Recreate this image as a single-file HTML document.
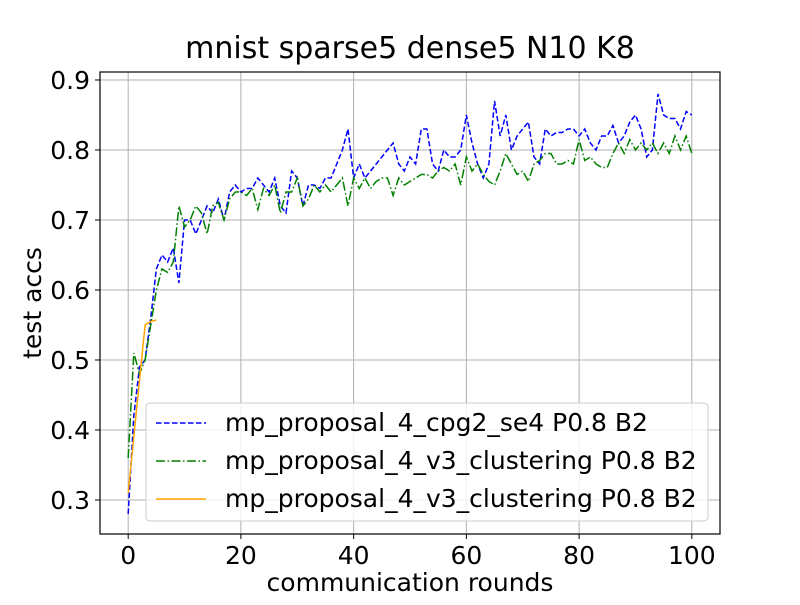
<!DOCTYPE html>
<html><head><meta charset="utf-8"><style>
body{margin:0;background:#fff}
svg text{font-family:"DejaVu Sans","Liberation Sans",sans-serif}
</style></head><body>
<svg id="chart" width="800" height="600" xmlns="http://www.w3.org/2000/svg">
<rect width="800" height="600" fill="#fff"/>
<g id="grid"></g>
<g id="series"></g>
<rect x="100" y="72" width="620" height="462" fill="none" stroke="#000" stroke-width="1.2"/>
<g id="ticks"></g>
<text x="410" y="58" font-size="30" text-anchor="middle">mnist sparse5 dense5 N10 K8</text>
<text x="410" y="591" font-size="25" text-anchor="middle">communication rounds</text>
<text transform="translate(41,303) rotate(-90)" font-size="25" text-anchor="middle">test accs</text>
<g>
<rect x="146" y="403" width="562" height="118" rx="4" fill="#fff" fill-opacity="0.8" stroke="#ccc"/>
<line x1="156" y1="423" x2="206" y2="423" stroke="blue" stroke-width="1.5" stroke-dasharray="5.5,2.5"/>
<text x="225" y="431" font-size="25">mp_proposal_4_cpg2_se4 P0.8 B2</text>
<line x1="156" y1="461" x2="206" y2="461" stroke="green" stroke-width="1.5" stroke-dasharray="9,2.5,1.5,2.5"/>
<text x="225" y="469" font-size="25">mp_proposal_4_v3_clustering P0.8 B2</text>
<line x1="156" y1="499" x2="206" y2="499" stroke="orange" stroke-width="1.5"/>
<text x="225" y="507" font-size="25">mp_proposal_4_v3_clustering P0.8 B2</text>
</g>
</svg>
<script>
const xTicks=[0,20,40,60,80,100];
const yTicks=[0.3,0.4,0.5,0.6,0.7,0.8,0.9];
const blueVals=[0.28,0.42,0.49,0.50,0.56,0.63,0.65,0.64,0.66,0.61,0.70,0.70,0.68,0.70,0.72,0.71,0.73,0.70,0.74,0.75,0.74,0.745,0.745,0.76,0.75,0.74,0.76,0.72,0.71,0.77,0.76,0.72,0.75,0.75,0.745,0.76,0.76,0.78,0.80,0.83,0.76,0.78,0.76,0.77,0.78,0.79,0.80,0.81,0.78,0.77,0.79,0.78,0.83,0.83,0.78,0.77,0.80,0.79,0.79,0.80,0.85,0.81,0.78,0.76,0.78,0.87,0.82,0.85,0.80,0.82,0.83,0.84,0.79,0.78,0.83,0.82,0.825,0.825,0.83,0.83,0.82,0.83,0.81,0.80,0.82,0.82,0.835,0.81,0.82,0.84,0.85,0.83,0.79,0.80,0.88,0.85,0.845,0.845,0.83,0.855,0.85];
const greenVals=[0.36,0.51,0.48,0.50,0.55,0.60,0.63,0.625,0.64,0.72,0.69,0.70,0.72,0.71,0.68,0.72,0.725,0.70,0.73,0.74,0.74,0.735,0.745,0.715,0.745,0.735,0.75,0.71,0.74,0.74,0.76,0.72,0.73,0.75,0.74,0.75,0.74,0.75,0.76,0.72,0.76,0.745,0.76,0.745,0.755,0.76,0.76,0.735,0.76,0.75,0.755,0.76,0.765,0.765,0.76,0.77,0.775,0.77,0.78,0.75,0.79,0.77,0.78,0.765,0.755,0.75,0.77,0.795,0.78,0.765,0.77,0.755,0.78,0.785,0.795,0.795,0.78,0.78,0.785,0.78,0.815,0.785,0.79,0.78,0.775,0.775,0.795,0.81,0.795,0.815,0.80,0.81,0.80,0.81,0.795,0.81,0.795,0.82,0.80,0.82,0.795];
const orangeVals=[0.31,0.39,0.47,0.55,0.555,0.557];
const NS="http://www.w3.org/2000/svg";
const X=v=>100+(v+5)*620/110;
const Y=v=>534-(v-0.2514)*700;
const grid=document.getElementById('grid'),ticks=document.getElementById('ticks'),ser=document.getElementById('series');
function mk(tag,at,parent){const e=document.createElementNS(NS,tag);for(const k in at)e.setAttribute(k,at[k]);parent.appendChild(e);return e;}
xTicks.forEach(t=>{
 const g=mk('line',{x1:X(t),x2:X(t),y1:72,y2:534,stroke:'#b0b0b0','stroke-width':1},grid);
 
 
 const tk=mk('line',{x1:X(t),x2:X(t),y1:534,y2:539,stroke:'#000'},ticks);
 
 
 const tx=mk('text',{x:X(t),y:564,'font-size':25,'text-anchor':'middle'},ticks);tx.textContent=t;
 
 
});
yTicks.forEach(t=>{
 const g=mk('line',{x1:100,x2:720,y1:Y(t),y2:Y(t),stroke:'#b0b0b0','stroke-width':1},grid);
 
 
 const tk=mk('line',{x1:95,x2:100,y1:Y(t),y2:Y(t),stroke:'#000'},ticks);
 
 
 const tx=mk('text',{x:90,y:Y(t)+9,'font-size':25,'text-anchor':'end'},ticks);tx.textContent=t.toFixed(1);
 
 
});
function line(vals,color,dash,name){
 const p=mk('polyline',{points:vals.map((v,i)=>X(i)+','+Y(v)).join(' '),fill:'none',stroke:color,'stroke-width':1.5,'stroke-dasharray':dash},ser);
 
 
}
line(blueVals,'blue','5.5,2.5','series-cpg2-blue');
line(greenVals,'green','9,2.5,1.5,2.5','series-v3-green');
line(orangeVals,'orange','none','series-v3-orange');
</script>
</body></html>
